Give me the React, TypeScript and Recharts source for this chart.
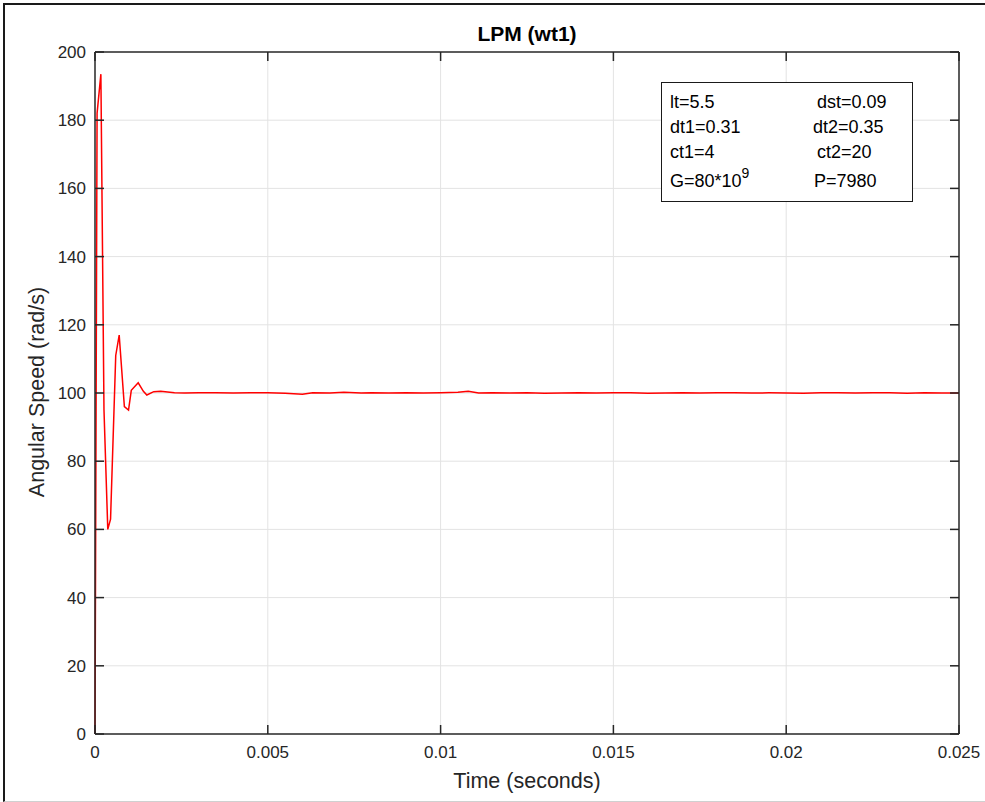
import React from "react";
import { LineChart, Line, XAxis, YAxis, ReferenceLine } from "recharts";

// Simulated rotor speed of wt1 (LPM model)
const timeSec = [
  0, 0.00006, 0.00017, 0.00026, 0.00037, 0.00045, 0.0006, 0.0007, 0.00085,
  0.00097, 0.00105, 0.00125, 0.0014, 0.0015, 0.0017, 0.0019, 0.0023, 0.0026,
  0.003, 0.0035, 0.004, 0.0045, 0.005, 0.0055, 0.006, 0.0063, 0.0068, 0.0072,
  0.0077, 0.008, 0.0085, 0.009, 0.0095, 0.01, 0.0105, 0.0108, 0.0111, 0.0115,
  0.012, 0.0125, 0.013, 0.0135, 0.014, 0.0145, 0.015, 0.0155, 0.016, 0.0165,
  0.017, 0.0175, 0.018, 0.0185, 0.019, 0.0195, 0.02, 0.0205, 0.021, 0.0215,
  0.022, 0.0225, 0.023, 0.0235, 0.024, 0.0245, 0.025,
];
const speedRadS = [
  0, 182, 193.5, 95, 60, 63, 111, 117, 96, 95, 100.8, 103, 100.5, 99.4, 100.4,
  100.5, 100.1, 100.0, 100.05, 100.1, 100.0, 100.1, 100.05, 99.95, 99.6, 100.1,
  100.0, 100.2, 100.0, 100.05, 100.0, 100.1, 100.0, 100.05, 100.2, 100.5,
  100.0, 100.05, 100.0, 100.1, 99.95, 100.0, 100.1, 100.0, 100.05, 100.1,
  99.95, 100.0, 100.1, 100.0, 100.05, 100.1, 100.0, 100.05, 100.0, 99.95,
  100.05, 100.1, 100.0, 100.05, 100.1, 99.95, 100.05, 100.0, 100.0,
];

const xTicks = [0, 0.005, 0.01, 0.015, 0.02, 0.025];
const yTicks = [0, 20, 40, 60, 80, 100, 120, 140, 160, 180, 200];

// parameter annotation, two columns
const paramLeft = ["lt=5.5", "dt1=0.31", "ct1=4", "G=80*10"];
const paramRight = ["dst=0.09", "dt2=0.35", "ct2=20", "P=7980"];

const data = timeSec.map((t, i) => ({ t, w: speedRadS[i] }));

const FONT = '"Liberation Sans", Arial, Helvetica, sans-serif';
const AXIS = "#262626";
const GRID = "#e3e3e3";
// negative tick size = tick marks point into the plot (MATLAB box style)
const TICK_IN = -9;
const tickText = { fontSize: 17, fill: AXIS, fontFamily: FONT };
const axisStroke = { stroke: AXIS, strokeWidth: 1.5 };
const NoLabel = () => <g />;

export default function App() {
  return (
    <div style={{ position: "absolute", left: 0, top: 0, width: 985, height: 802, background: "#fff", fontFamily: FONT }}>
      {/* figure frame */}
      <div
        style={{
          position: "absolute", left: 3, top: 3, width: 982, height: 796,
          borderTop: "2px solid #1a1a1a", borderLeft: "2px solid #1a1a1a", borderBottom: "1px solid #d0d0d0",
        }}
      />
      <div style={{ position: "absolute", left: 0, top: 22, width: 1054, textAlign: "center", fontSize: 21, fontWeight: "bold", color: "#000" }}>
        LPM (wt1)
      </div>
      <div style={{ position: "absolute", left: 0, top: 769, width: 1054, textAlign: "center", fontSize: 21.5, color: AXIS }}>
        Time (seconds)
      </div>
      <div
        style={{
          position: "absolute", left: 37, top: 392, whiteSpace: "nowrap", fontSize: 21.5, color: AXIS,
          transform: "translate(-50%, -50%) rotate(-90deg)",
        }}
      >
        Angular Speed (rad/s)
      </div>

      <div style={{ position: "absolute", left: 0, top: 0 }}>
        <LineChart width={985} height={802} data={data} margin={{ top: 51, right: 25, left: 34, bottom: 38 }}>
          {/* grid as plain reference lines, one per tick */}
          {yTicks.slice(1, -1).map((v) => (
            <ReferenceLine key={`gy${v}`} y={v} stroke={GRID} />
          ))}
          {xTicks.slice(1, -1).map((t) => (
            <ReferenceLine key={`gx${t}`} x={t} stroke={GRID} />
          ))}
          <XAxis
            dataKey="t" type="number" domain={[0, 0.025]} ticks={xTicks} interval={0}
            height={30} tickSize={TICK_IN} tickMargin={21} tickLine={axisStroke}
            axisLine={axisStroke} tick={tickText}
          />
          <XAxis
            xAxisId="top" orientation="top" dataKey="t" type="number" domain={[0, 0.025]} ticks={xTicks}
            interval={0} height={1} tickSize={TICK_IN} tickMargin={0}
            tickLine={axisStroke} axisLine={axisStroke} tick={<NoLabel />}
          />
          <YAxis
            type="number" domain={[0, 200]} ticks={yTicks} interval={0} width={61}
            tickSize={TICK_IN} tickMargin={18} tickLine={axisStroke}
            axisLine={axisStroke} tick={tickText}
          />
          <YAxis
            yAxisId="right" orientation="right" type="number" domain={[0, 200]} ticks={yTicks}
            interval={0} width={1} tickSize={TICK_IN} tickMargin={0}
            tickLine={axisStroke} axisLine={axisStroke} tick={<NoLabel />}
          />
          {/* unstroked copy bound to the box axes so they get laid out */}
          <Line
            xAxisId="top" yAxisId="right" type="linear" dataKey="w" stroke="none"
            dot={false} activeDot={false} isAnimationActive={false}
          />
          <Line
            type="linear" dataKey="w" stroke="#ff0000" strokeWidth={1.5}
            dot={false} activeDot={false} isAnimationActive={false}
          />
        </LineChart>
      </div>

      {/* parameter box */}
      <div
        style={{
          position: "absolute", left: 661, top: 82, width: 250, height: 118,
          border: "1px solid #1a1a1a", background: "#fff", fontSize: 18, color: "#000",
        }}
      >
        {paramLeft.map((txt, i) => (
          <div key={txt} style={{ position: "absolute", left: 8, top: [9, 34, 59, 88][i], lineHeight: "20px", whiteSpace: "nowrap" }}>
            {txt}
            {i === 3 && (
              <span style={{ fontSize: 14, position: "relative", top: -9, lineHeight: "0px" }}>9</span>
            )}
          </div>
        ))}
        {paramRight.map((txt, i) => (
          <div key={txt} style={{ position: "absolute", left: [155, 151, 155, 152][i], top: [9, 34, 59, 88][i], lineHeight: "20px", whiteSpace: "nowrap" }}>
            {txt}
          </div>
        ))}
      </div>
    </div>
  );
}
